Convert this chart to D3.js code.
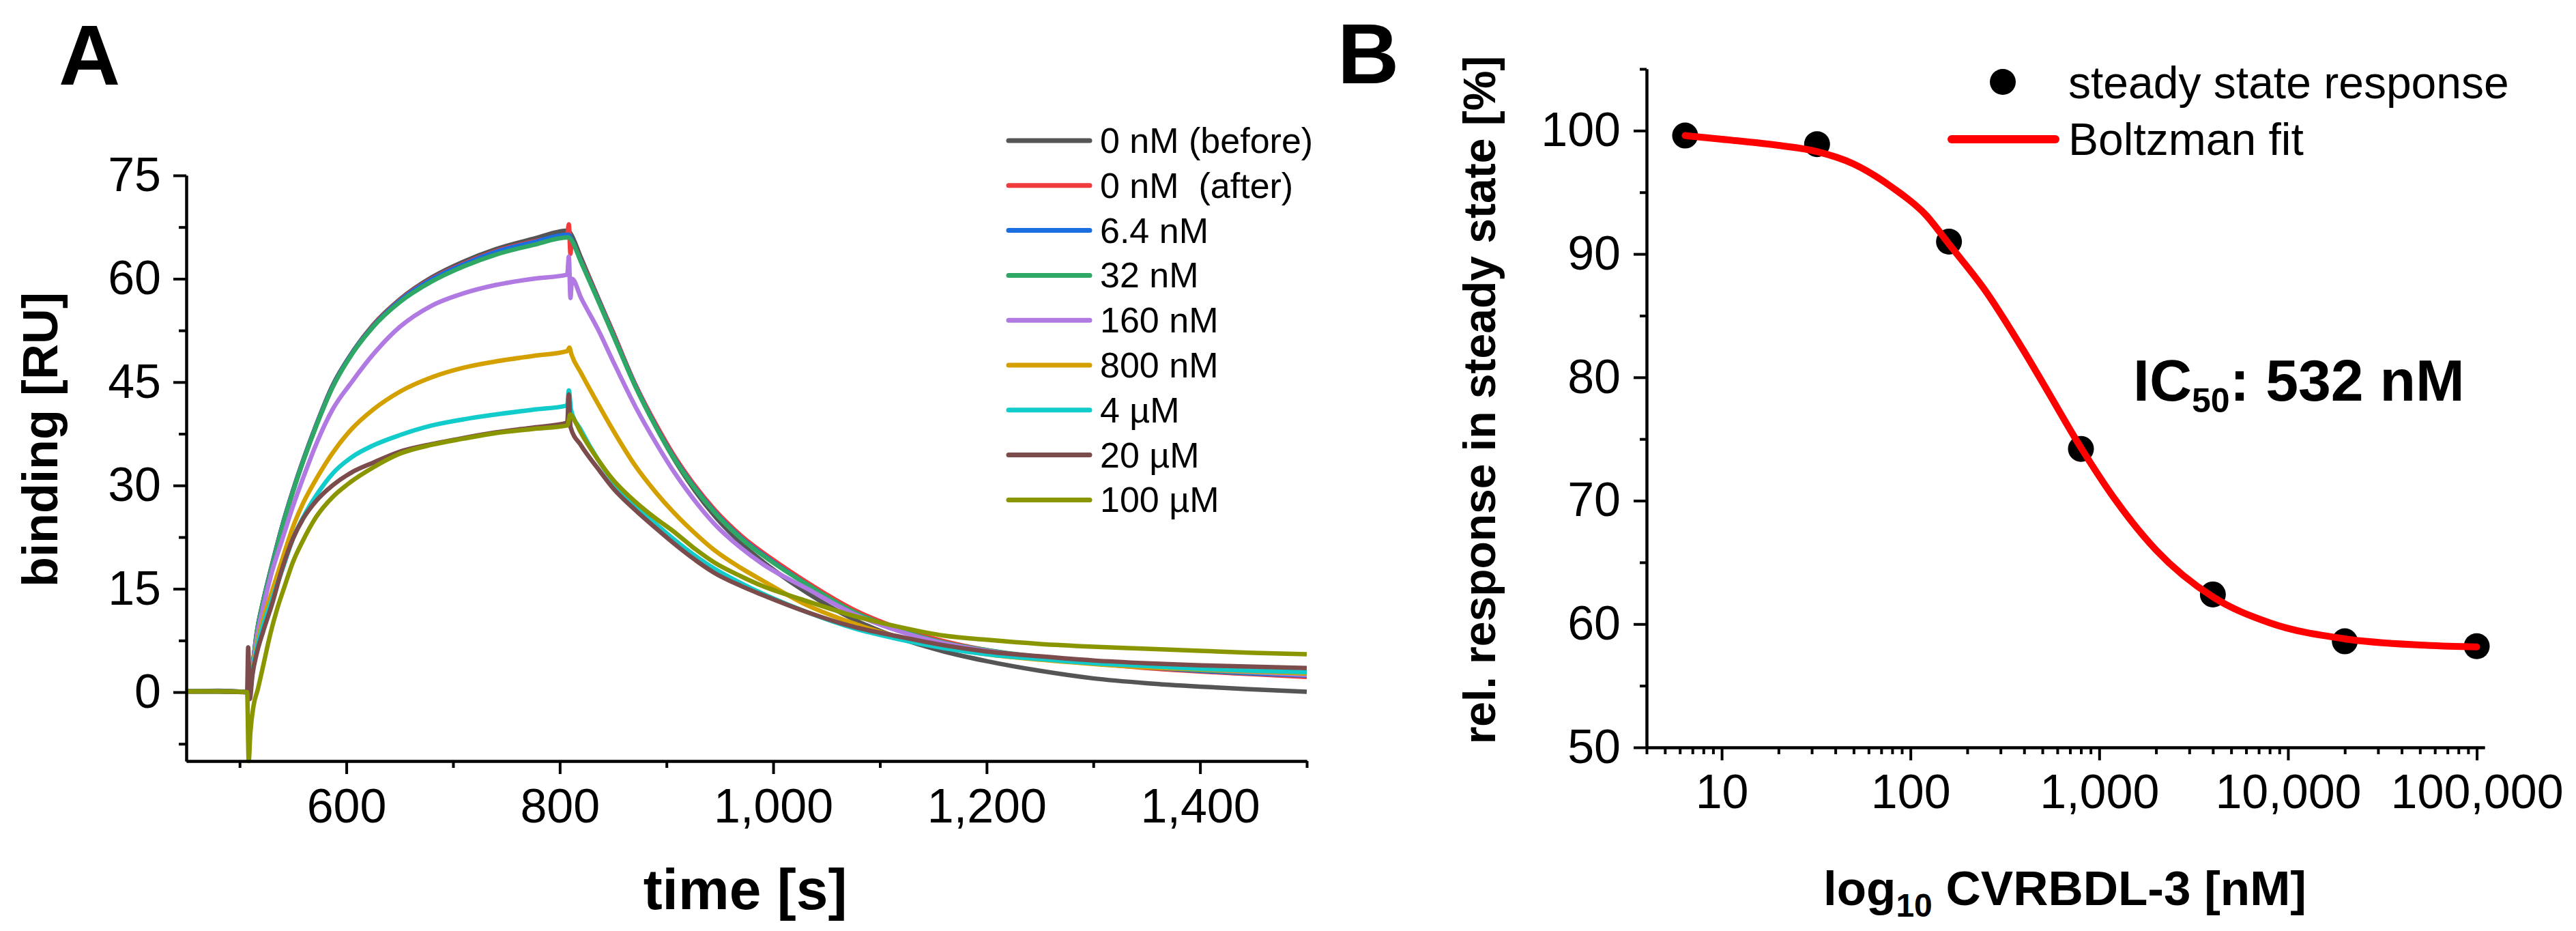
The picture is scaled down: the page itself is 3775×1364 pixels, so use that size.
<!DOCTYPE html>
<html>
<head>
<meta charset="utf-8">
<script src="https://cdn.jsdelivr.net/npm/d3@7"></script>
<style>
  html, body { margin: 0; padding: 0; background: #fff; }
  svg { display: block; }
  text { font-family: "Liberation Sans", Arial, sans-serif; fill: #000; }
</style>
</head>
<body>
<div id="chart"></div>
<script>
// ---------- Panel A: sensorgrams, [time s, binding RU] ----------
const seriesNames = ["0 nM (before)", "0 nM  (after)", "6.4 nM", "32 nM", "160 nM", "800 nM", "4 µM", "20 µM", "100 µM"];
const seriesColors = ["#555555", "#f03c3c", "#1b6ee0", "#2fa866", "#b07ae2", "#d4a000", "#12cccc", "#7c4b4b", "#8a9600"];

const trace0Before = [[450,0.1],[480,0.2],[507,0],[509,-0.6],[512,3.5],[516,8.6],[522,13.2],[530,18.3],[540,24.2],[550,29.3],[560,33.9],[572,38.9],[587,44.5],[605,49.2],[625,53.3],[650,57.0],[680,60.2],[710,62.5],[740,64.3],[775,65.8],[808,67.0],[810,66.6],[820,63.0],[836,57.2],[850,52.2],[871,44.5],[890,38.6],[906,34.1],[925,29.6],[945,25.6],[970,21.6],[1000,17.8],[1032,14.4],[1075,10.6],[1117,7.9],[1160,5.9],[1200,4.5],[1250,3.1],[1300,2.0],[1350,1.3],[1400,0.8],[1450,0.4],[1500,0.05]];
const trace0After = [[450,0.1],[480,0.1],[507,0],[509,-0.6],[512,3.4],[516,8.5],[522,13.1],[530,18.2],[540,24.1],[550,29.2],[560,33.8],[572,38.8],[587,44.3],[605,49.1],[625,53.2],[650,56.9],[680,60.0],[710,62.2],[740,64.0],[775,65.4],[807,66.5],[808.5,67.9],[810,63.6],[811,65.2],[820,62.6],[836,57.0],[850,52.1],[871,44.6],[890,38.9],[906,34.6],[925,30.3],[945,26.5],[970,22.7],[1000,19.2],[1032,15.9],[1075,12.0],[1117,9.3],[1160,7.4],[1200,6.1],[1250,5.0],[1300,4.2],[1350,3.5],[1400,3.0],[1450,2.6],[1500,2.2]];
const trace6p4nM = [[450,0.1],[480,0.1],[507,0],[509,-0.6],[512,3.4],[516,8.5],[522,13.1],[530,18.2],[540,24.1],[550,29.2],[560,33.8],[572,38.8],[587,44.3],[605,49.1],[625,53.1],[650,56.8],[680,59.9],[710,62.1],[740,63.9],[775,65.3],[808,66.4],[810,66.0],[820,62.5],[836,56.9],[850,51.9],[871,44.4],[890,38.6],[906,34.3],[925,30.0],[945,26.2],[970,22.4],[1000,18.9],[1032,15.6],[1075,11.6],[1117,9.0],[1160,7.1],[1200,5.9],[1250,4.9],[1300,4.2],[1350,3.6],[1400,3.1],[1450,2.7],[1500,2.4]];
const trace32nM = [[450,0.1],[480,0.1],[507,0],[509,-0.6],[512,3.4],[516,8.5],[522,13.1],[530,18.1],[540,24.0],[550,29.1],[560,33.7],[572,38.7],[587,44.2],[605,49.0],[625,53.0],[650,56.6],[680,59.6],[710,61.8],[740,63.5],[775,64.9],[808,66.0],[810,65.8],[820,62.4],[836,56.8],[850,51.8],[871,44.3],[890,38.5],[906,34.2],[925,29.9],[945,26.1],[970,22.3],[1000,18.8],[1032,15.6],[1075,11.7],[1117,9.1],[1160,7.2],[1200,6.1],[1250,5.1],[1300,4.3],[1350,3.7],[1400,3.2],[1450,2.85],[1500,2.6]];
const trace160nM = [[450,0.1],[480,0.1],[507,0],[509,-0.6],[512,3.2],[516,7.8],[522,12.3],[530,17.3],[540,22.2],[550,27.0],[560,31.3],[572,36.1],[587,41.0],[605,45.0],[625,49.0],[650,53.0],[680,56.1],[710,57.9],[740,59.1],[775,60.0],[807,60.6],[808.5,63.2],[810,57.2],[811.5,60.0],[820,57.2],[836,52.6],[850,48.0],[871,41.4],[890,36.2],[906,32.2],[925,28.1],[945,24.4],[970,20.9],[990,18.6],[1032,15.0],[1075,11.4],[1117,8.9],[1160,7.1],[1200,6.0],[1250,5.1],[1300,4.4],[1350,3.8],[1400,3.3],[1450,2.9],[1500,2.5]];
const trace800nM = [[450,0.1],[480,0.1],[507,0],[509,-0.6],[512,3.0],[516,6.8],[522,10.5],[530,14.5],[540,19.3],[550,24.0],[560,27.6],[572,31.0],[587,34.7],[605,38.2],[625,41.0],[650,43.6],[680,45.7],[710,47.1],[740,48.0],[775,48.8],[807,49.5],[809,50.0],[811,49.0],[820,46.3],[836,41.8],[850,38.0],[871,32.8],[890,29.0],[906,26.2],[925,23.3],[945,20.6],[970,18.0],[990,16.2],[1032,12.6],[1075,10.0],[1117,8.0],[1160,6.5],[1200,5.5],[1250,4.7],[1300,4.1],[1350,3.6],[1400,3.3],[1450,3.0],[1500,2.7]];
const trace4uM = [[450,0.1],[480,0.1],[507,0],[509,-0.6],[512,2.8],[516,6.3],[522,9.7],[530,13.3],[540,17.8],[550,22.3],[560,25.5],[572,28.6],[587,31.7],[605,34.1],[625,35.8],[650,37.3],[680,38.7],[710,39.6],[740,40.3],[775,41.0],[807,41.6],[808.5,43.8],[810.5,41.0],[820,38.0],[836,33.7],[850,30.6],[871,27.0],[890,24.4],[906,22.3],[925,20.0],[945,17.9],[970,15.8],[990,14.3],[1032,11.6],[1075,9.3],[1117,7.7],[1160,6.4],[1200,5.5],[1250,4.8],[1300,4.2],[1350,3.8],[1400,3.4],[1450,3.1],[1500,2.9]];
const trace20uM = [[450,0.1],[480,0.1],[507,0],[508,6.5],[509.5,-1.0],[512,2.5],[516,5.6],[522,8.8],[530,12.6],[540,18.0],[550,22.3],[560,25.3],[572,27.8],[587,30.0],[605,31.9],[625,33.3],[650,34.9],[680,36.0],[710,36.9],[740,37.7],[775,38.4],[807,39.1],[808.5,43.2],[810,38.5],[820,35.8],[836,32.4],[850,29.6],[871,26.4],[890,23.8],[906,21.7],[925,19.4],[945,17.3],[970,15.4],[990,14.1],[1032,11.6],[1075,9.5],[1117,8.1],[1160,6.8],[1200,5.9],[1250,5.2],[1300,4.6],[1350,4.2],[1400,3.9],[1450,3.7],[1500,3.5]];
const trace100uM = [[450,0.1],[480,0.1],[507,0],[508.5,-10],[510,-6],[513,-2.0],[517,0.4],[522,3.8],[529,8.6],[535,12.0],[542,15.3],[550,18.9],[559,21.9],[572,25.5],[587,28.3],[604,30.5],[625,32.6],[650,34.6],[680,35.9],[710,36.8],[740,37.6],[775,38.2],[807,38.7],[810,40.3],[814,39.4],[820,37.6],[836,33.7],[850,30.8],[871,27.6],[890,25.2],[906,23.4],[925,21.0],[945,18.8],[970,16.8],[990,15.4],[1032,13.2],[1075,11.1],[1117,9.5],[1160,8.2],[1200,7.6],[1250,7.0],[1300,6.6],[1350,6.3],[1400,6.0],[1450,5.7],[1500,5.5]];
const traces = [trace0Before, trace0After, trace6p4nM, trace32nM, trace160nM, trace800nM, trace4uM, trace20uM, trace100uM];

const timeTicks = [600, 800, 1000, 1200, 1400];
const timeMinorTicks = [500, 700, 900, 1100, 1300, 1500];
const bindingTicks = [0, 15, 30, 45, 60, 75];
const bindingMinorTicks = [-7.5, 7.5, 22.5, 37.5, 52.5, 67.5];

// ---------- Panel B: steady state response vs concentration ----------
const concentrations = [6.4, 32, 160, 800, 4000, 20000, 100000];
const steadyState = [99.6, 98.9, 91.0, 74.2, 62.4, 58.6, 58.2];
const fitConc = [6.4, 10, 20, 32, 50, 80, 120, 160, 250, 400, 532, 800, 1200, 2000, 4000, 8000, 20000, 50000, 100000];
const fitResponse = [99.6, 99.3, 98.8, 98.3, 97.3, 95.4, 93.2, 90.8, 87.0, 82.1, 78.9, 74.3, 70.2, 66.0, 62.2, 60.1, 58.8, 58.3, 58.15];
const concTicks = [10, 100, 1000, 10000, 100000];
const concMinorTicks = [4,5,6,7,8,9,20,30,40,50,60,70,80,90,200,300,400,500,600,700,800,900,
  2000,3000,4000,5000,6000,7000,8000,9000,20000,30000,40000,50000,60000,70000,80000,90000];
const responseTicks = [50, 60, 70, 80, 90, 100];
const responseMinorTicks = [55, 65, 75, 85, 95, 105];

const W = 3775, H = 1364;
const svg = d3.select("#chart").append("svg")
    .attr("width", W).attr("height", H)
    .attr("viewBox", `0 0 ${W} ${H}`);

function styleAxis(g) {
    g.attr("font-family", null).attr("font-size", null);
    g.select(".domain").attr("stroke", "#000").attr("stroke-width", 4);
    g.selectAll(".tick line").attr("stroke", "#000").attr("stroke-width", 4);
    g.selectAll(".tick text").attr("font-size", 70).attr("fill", "#000");
}

// ===== Panel A =====
const ax = d3.scaleLinear().domain([450, 1500]).range([273, 1915]);
const ay = d3.scaleLinear().domain([-10, 75]).range([1115, 257]);

const line = d3.line()
    .x(d => ax(d[0]))
    .y(d => ay(d[1]))
    .curve(d3.curveMonotoneX);

svg.append("g")
    .selectAll("path")
    .data(traces)
    .enter().append("path")
    .attr("d", line)
    .attr("fill", "none")
    .attr("stroke", (d, i) => seriesColors[i])
    .attr("stroke-width", 6.5)
    .attr("stroke-linejoin", "round");

svg.append("g")
    .attr("transform", `translate(0,${ay(-10)})`)
    .call(d3.axisBottom(ax).tickValues(timeMinorTicks).tickSize(10).tickSizeOuter(0).tickFormat(""))
    .call(styleAxis);
svg.append("g")
    .attr("transform", `translate(0,${ay(-10)})`)
    .call(d3.axisBottom(ax).tickValues(timeTicks).tickSize(19).tickSizeOuter(0).tickPadding(21).tickFormat(d3.format(",")))
    .call(styleAxis);

svg.append("g")
    .attr("transform", `translate(${ax(450)},0)`)
    .call(d3.axisLeft(ay).tickValues(bindingMinorTicks).tickSize(11).tickSizeOuter(0).tickFormat(""))
    .call(styleAxis);
svg.append("g")
    .attr("transform", `translate(${ax(450)},0)`)
    .call(d3.axisLeft(ay).tickValues(bindingTicks).tickSize(19).tickSizeOuter(0).tickPadding(18))
    .call(styleAxis);

svg.append("text")
    .attr("x", 1092).attr("y", 1332)
    .attr("text-anchor", "middle")
    .attr("font-size", 84).attr("font-weight", "bold")
    .text("time [s]");

svg.append("text")
    .attr("transform", "translate(84,644) rotate(-90)")
    .attr("text-anchor", "middle")
    .attr("font-size", 72).attr("font-weight", "bold")
    .text("binding [RU]");

// legend A
const legA = svg.append("g");
seriesNames.forEach((name, i) => {
    const y = 206 + i * 65.8;
    legA.append("line")
        .attr("x1", 1478).attr("x2", 1597).attr("y1", y).attr("y2", y)
        .attr("stroke", seriesColors[i]).attr("stroke-width", 7)
        .attr("stroke-linecap", "round");
    legA.append("text")
        .attr("x", 1612).attr("y", y + 18)
        .attr("font-size", 52)
        .style("white-space", "pre")
        .text(name);
});

// panel letters
svg.append("text")
    .attr("x", 86).attr("y", 124)
    .attr("font-size", 125).attr("font-weight", "bold")
    .text("A");

// ===== Panel B =====
const bx = d3.scaleLog().domain([4, 110000]).range([2413, 3641]);
const by = d3.scaleLinear().domain([50, 105]).range([1095, 101]);

svg.append("g")
    .attr("transform", `translate(0,${by(50)})`)
    .call(d3.axisBottom(bx).tickValues(concMinorTicks).tickSize(10).tickSizeOuter(0).tickFormat(""))
    .call(styleAxis);
svg.append("g")
    .attr("transform", `translate(0,${by(50)})`)
    .call(d3.axisBottom(bx).tickValues(concTicks).tickSize(19).tickSizeOuter(0).tickPadding(20).tickFormat(d3.format(",")))
    .call(styleAxis);

svg.append("g")
    .attr("transform", `translate(${bx(4)},0)`)
    .call(d3.axisLeft(by).tickValues(responseMinorTicks).tickSize(10).tickSizeOuter(0).tickFormat(""))
    .call(styleAxis);
svg.append("g")
    .attr("transform", `translate(${bx(4)},0)`)
    .call(d3.axisLeft(by).tickValues(responseTicks).tickSize(19).tickSizeOuter(0).tickPadding(19))
    .call(styleAxis);

svg.append("g")
    .selectAll("circle")
    .data(concentrations)
    .enter().append("circle")
    .attr("cx", d => bx(d))
    .attr("cy", (d, i) => by(steadyState[i]))
    .attr("r", 19)
    .attr("fill", "#000");

const fitLine = d3.line()
    .x(d => bx(d))
    .y((d, i) => by(fitResponse[i]))
    .curve(d3.curveMonotoneX);
svg.append("path")
    .attr("d", fitLine(fitConc))
    .attr("fill", "none")
    .attr("stroke", "#ff0000")
    .attr("stroke-width", 10)
    .attr("stroke-linecap", "round");

// legend B
svg.append("circle").attr("cx", 2935).attr("cy", 120).attr("r", 19).attr("fill", "#000");
svg.append("text").attr("x", 3031).attr("y", 144).attr("font-size", 66).text("steady state response");
svg.append("line")
    .attr("x1", 2860).attr("x2", 3012).attr("y1", 204).attr("y2", 204)
    .attr("stroke", "#ff0000").attr("stroke-width", 12).attr("stroke-linecap", "round");
svg.append("text").attr("x", 3031).attr("y", 227).attr("font-size", 66).text("Boltzman fit");

// IC50 annotation
const ic = svg.append("text")
    .attr("x", 3126).attr("y", 587)
    .attr("font-size", 86).attr("font-weight", "bold")
    .style("white-space", "pre");
ic.append("tspan").text("IC");
ic.append("tspan").attr("font-size", 50).attr("dy", 17).text("50");
ic.append("tspan").attr("dy", -17).text(": 532 nM");

// axis titles B
const xlab = svg.append("text")
    .attr("x", 3026).attr("y", 1326)
    .attr("text-anchor", "middle")
    .attr("font-size", 71).attr("font-weight", "bold")
    .style("white-space", "pre");
xlab.append("tspan").text("log");
xlab.append("tspan").attr("font-size", 48).attr("dy", 17).text("10");
xlab.append("tspan").attr("dy", -17).text(" CVRBDL-3 [nM]");

svg.append("text")
    .attr("transform", "translate(2191,586) rotate(-90)")
    .attr("text-anchor", "middle")
    .attr("font-size", 66).attr("font-weight", "bold")
    .text("rel. response in steady state [%]");

svg.append("text")
    .attr("x", 1960).attr("y", 122)
    .attr("font-size", 125).attr("font-weight", "bold")
    .text("B");
</script>
</body>
</html>
